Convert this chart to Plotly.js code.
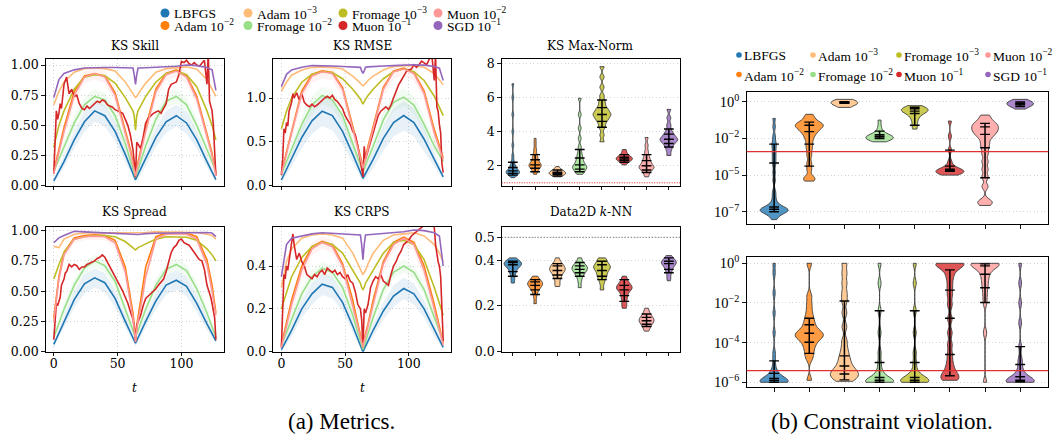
<!DOCTYPE html>
<html><head><meta charset="utf-8">
<script src="https://cdn.plot.ly/plotly-3.0.1.min.js"></script>
<style>html,body{margin:0;padding:0;background:#fff}#chart{width:1055px;height:436px}</style>
</head><body><div id="chart"></div>
<script>
// ---------------- DATA ----------------
const METHODS = ['LBFGS','Adam 1e-2','Adam 1e-3','Fromage 1e-2','Fromage 1e-3','Muon 1e-1','Muon 1e-2','SGD 1e-1'];
const LABELS = ['LBFGS','Adam 10<sup>−2</sup>','Adam 10<sup>−3</sup>','Fromage 10<sup>−2</sup>','Fromage 10<sup>−3</sup>','Muon 10<sup>−1</sup>','Muon 10<sup>−2</sup>','SGD 10<sup>−1</sup>'];
const COLORS = ['#1f77b4','#ff7f0e','#ffbb78','#98df8a','#bcbd22','#d62728','#ff9896','#9467bd'];

const T8 = [0,8,16,24,32,40,48,56,64,72,80,88,96,104,112,120,127];
const T_DIP = [0,4,8,16,24,32,40,48,56,60,62,63,64,65,66,68,72,80,88,96,104,112,120,124,127];
const T_RED = [0,1,2,3,4,5,6,8,9,10,12,14,16,18,20,22,24,26,28,30,32,34,36,38,40,42,44,46,48,50,52,54,56,58,60,62,63,64,65,66,68,70,72,74,76,78,80,82,84,86,88,90,92,94,96,98,100,102,104,106,108,110,112,114,116,118,120,121,122,123,124,125,126,127];

// KS Skill
const SKILL_LBFGS = [0.04,0.2,0.38,0.53,0.62,0.58,0.45,0.26,0.05,0.22,0.40,0.53,0.58,0.52,0.38,0.2,0.05];
const SKILL_LBFGS_SD = [0.02,0.05,0.07,0.08,0.09,0.09,0.08,0.06,0.03,0.06,0.08,0.09,0.09,0.09,0.07,0.05,0.02];
const SKILL_ADAM2 = [0.12,0.3,0.48,0.78,0.91,0.93,0.91,0.77,0.47,0.3,0.2,0.15,0.1,0.15,0.2,0.3,0.48,0.8,0.93,0.96,0.91,0.74,0.44,0.27,0.1];
const SKILL_ADAM3 = [0.67,0.78,0.86,0.94,0.97,0.975,0.97,0.95,0.86,0.79,0.76,0.74,0.73,0.74,0.76,0.79,0.85,0.94,0.97,0.98,0.985,0.965,0.88,0.8,0.74];
const SKILL_FROM2 = [0.12,0.32,0.52,0.67,0.74,0.71,0.58,0.35,0.07,0.33,0.55,0.70,0.74,0.67,0.5,0.3,0.12];
const SKILL_FROM2_SD = [0.03,0.05,0.06,0.06,0.06,0.06,0.06,0.05,0.03,0.05,0.06,0.06,0.06,0.06,0.06,0.05,0.03];
const SKILL_FROM3 = [0.32,0.5,0.62,0.8,0.9,0.92,0.91,0.85,0.73,0.66,0.62,0.58,0.46,0.58,0.62,0.66,0.74,0.86,0.93,0.95,0.92,0.82,0.62,0.5,0.38];
const SKILL_MUON1 = [0.1,0.45,0.62,0.55,0.6,0.68,0.64, 0.84,0.88,0.9,
  0.76,0.8,0.74,0.75,0.68,0.64,0.63,0.66,0.64,0.66,0.68,0.7,0.69,0.71,0.7,0.67,0.66,0.65,0.63,0.62,0.61,0.6,0.55,0.5,0.42,
  0.3,0.2,0.07,0.36,0.34,
  0.31,0.4,0.52,0.56,0.58,0.6,0.61,0.62,0.6,0.64,0.68,0.8,0.84,0.85,0.86,0.92,1.03,1.02,1.04,1.01,1.0,1.02,1.0,0.99,1.02,1.04,0.84,
  1.1,0.7,0.66,0.62,0.5,0.24,0.08];
const SKILL_MUON2 = [0.1,0.28,0.45,0.75,0.9,0.93,0.9,0.75,0.45,0.28,0.18,0.13,0.08,0.13,0.18,0.28,0.45,0.78,0.92,0.95,0.9,0.72,0.42,0.25,0.08];
const SKILL_MUON2_SD = [0.03,0.05,0.06,0.06,0.05,0.05,0.05,0.06,0.06,0.05,0.04,0.03,0.03,0.03,0.04,0.05,0.06,0.06,0.05,0.05,0.05,0.06,0.06,0.05,0.03];
const SKILL_SGD = [0.73,0.88,0.93,0.96,0.975,0.98,0.98,0.98,0.978,0.976,0.975,0.92,0.84,0.92,0.975,0.976,0.978,0.98,0.985,0.99,1.0,0.995,0.98,0.96,0.79];

// KS RMSE
const RMSE_LBFGS = [0.065,0.3,0.55,0.74,0.85,0.8,0.62,0.36,0.085,0.3,0.54,0.72,0.8,0.72,0.53,0.3,0.1];
const RMSE_LBFGS_SD = [0.03,0.08,0.12,0.15,0.17,0.17,0.15,0.1,0.04,0.1,0.14,0.16,0.17,0.16,0.13,0.08,0.03];
const RMSE_ADAM2 = [0.15,0.38,0.64,1.08,1.27,1.31,1.29,1.12,0.68,0.45,0.32,0.27,0.22,0.27,0.32,0.45,0.68,1.12,1.31,1.34,1.29,1.08,0.64,0.45,0.32];
const RMSE_ADAM3 = [1.08,1.18,1.26,1.32,1.35,1.355,1.35,1.33,1.25,1.2,1.17,1.15,1.14,1.15,1.17,1.2,1.25,1.32,1.36,1.37,1.37,1.35,1.28,1.2,1.15];
const RMSE_FROM2 = [0.13,0.42,0.7,0.92,1.03,0.98,0.8,0.48,0.16,0.45,0.75,0.95,1.01,0.92,0.7,0.45,0.28];
const RMSE_FROM2_SD = [0.04,0.07,0.09,0.1,0.1,0.1,0.09,0.08,0.05,0.08,0.09,0.1,0.1,0.1,0.09,0.07,0.05];
const RMSE_FROM3 = [0.65,0.85,1.0,1.18,1.27,1.3,1.29,1.22,1.1,1.03,0.99,0.96,0.93,0.96,0.99,1.03,1.1,1.22,1.3,1.33,1.3,1.2,1.02,0.9,0.8];
const RMSE_MUON1 = [0.12,0.3,0.65,0.6,0.72,0.68,0.85, 0.95,1.05,1.0,
  1.06,0.98,1.05,0.95,0.92,0.9,0.93,0.9,0.92,0.95,0.98,1.0,1.02,1.0,1.03,0.98,0.96,0.92,0.88,0.8,0.75,0.7,0.62,0.58,0.45,
  0.3,0.2,0.1,0.45,0.3,
  0.4,0.5,0.62,0.72,0.8,0.85,0.88,0.9,0.87,0.92,1.0,1.08,1.15,1.2,1.25,1.3,1.32,1.33,1.38,1.35,1.38,1.42,1.4,1.38,1.44,1.5,1.2,
  1.5,0.9,0.85,0.7,0.6,0.25,0.15];
const RMSE_MUON2 = [0.13,0.35,0.6,1.05,1.25,1.3,1.28,1.1,0.65,0.42,0.3,0.25,0.2,0.25,0.3,0.42,0.65,1.1,1.3,1.33,1.28,1.05,0.6,0.42,0.3];
const RMSE_MUON2_SD = [0.04,0.07,0.09,0.1,0.08,0.08,0.08,0.09,0.09,0.08,0.06,0.05,0.04,0.05,0.06,0.08,0.09,0.09,0.08,0.08,0.08,0.09,0.09,0.07,0.05];
const RMSE_SGD = [1.13,1.27,1.32,1.35,1.37,1.37,1.365,1.36,1.355,1.355,1.35,1.31,1.28,1.31,1.35,1.355,1.36,1.365,1.37,1.375,1.38,1.375,1.36,1.34,1.2];

// KS Spread
const SPREAD_LBFGS = [0.06,0.25,0.43,0.56,0.61,0.57,0.44,0.25,0.07,0.25,0.42,0.55,0.59,0.54,0.4,0.23,0.09];
const SPREAD_LBFGS_SD = [0.02,0.05,0.07,0.08,0.08,0.08,0.07,0.05,0.03,0.05,0.07,0.08,0.08,0.08,0.07,0.05,0.02];
const SPREAD_ADAM2 = [0.28,0.62,0.82,0.94,0.96,0.965,0.96,0.92,0.7,0.46,0.32,0.22,0.1,0.22,0.3,0.42,0.7,0.95,0.98,0.985,0.98,0.95,0.76,0.55,0.32];
const SPREAD_ADAM3 = [0.87,0.86,0.93,0.97,0.98,0.98,0.98,0.98,0.98,0.98,0.98,0.98,0.98,0.98,0.98,0.985,0.985,0.99,0.99,0.99,0.99,0.985,0.97,0.96,0.93];
const SPREAD_FROM2 = [0.12,0.35,0.55,0.69,0.75,0.71,0.58,0.35,0.12,0.35,0.55,0.68,0.72,0.67,0.52,0.32,0.12];
const SPREAD_FROM2_SD = [0.03,0.05,0.05,0.05,0.05,0.05,0.05,0.05,0.03,0.05,0.05,0.05,0.05,0.05,0.05,0.05,0.03];
const SPREAD_FROM3 = [0.6,0.72,0.82,0.93,0.95,0.96,0.96,0.95,0.91,0.88,0.86,0.85,0.84,0.85,0.86,0.87,0.89,0.93,0.95,0.95,0.945,0.92,0.85,0.8,0.75];
const SPREAD_MUON1 = [0.1,0.3,0.4,0.38,0.42,0.45,0.55, 0.6,0.65,0.66,
  0.72,0.7,0.72,0.71,0.68,0.7,0.7,0.72,0.73,0.74,0.75,0.77,0.78,0.8,0.78,0.74,0.7,0.66,0.62,0.58,0.55,0.5,0.45,0.4,0.33,
  0.27,0.2,0.08,0.22,0.25,
  0.3,0.38,0.44,0.46,0.48,0.5,0.52,0.55,0.58,0.6,0.66,0.75,0.82,0.86,0.88,0.92,0.93,0.9,0.89,0.88,0.85,0.82,0.78,0.76,0.75,0.68,0.55,
  0.52,0.48,0.45,0.4,0.35,0.28,0.1];
const SPREAD_MUON2 = [0.25,0.6,0.8,0.93,0.95,0.955,0.95,0.9,0.66,0.42,0.28,0.18,0.08,0.18,0.26,0.36,0.62,0.93,0.97,0.975,0.97,0.93,0.72,0.5,0.3];
const SPREAD_MUON2_SD = [0.04,0.05,0.04,0.03,0.03,0.03,0.03,0.04,0.05,0.05,0.04,0.03,0.03,0.03,0.04,0.05,0.05,0.03,0.02,0.02,0.02,0.03,0.05,0.05,0.04];
const SPREAD_SGD = [0.9,0.94,0.96,0.995,0.99,0.985,0.98,0.975,0.97,0.97,0.968,0.967,0.966,0.967,0.968,0.97,0.975,0.978,0.98,0.98,0.982,0.985,0.985,0.98,0.95];

// KS CRPS
const CRPS_LBFGS = [0.01,0.1,0.2,0.27,0.315,0.3,0.23,0.12,0.0,0.1,0.19,0.26,0.295,0.27,0.2,0.1,0.02];
const CRPS_LBFGS_SD = [0.01,0.03,0.04,0.05,0.05,0.05,0.04,0.03,0.01,0.03,0.04,0.05,0.05,0.05,0.04,0.03,0.01];
const CRPS_ADAM2 = [0.03,0.13,0.24,0.4,0.49,0.515,0.5,0.41,0.24,0.13,0.08,0.06,0.03,0.06,0.08,0.13,0.24,0.42,0.51,0.535,0.51,0.4,0.22,0.12,0.04];
const CRPS_ADAM3 = [0.3,0.42,0.48,0.53,0.545,0.55,0.545,0.53,0.46,0.41,0.38,0.37,0.36,0.37,0.38,0.41,0.46,0.52,0.545,0.55,0.555,0.54,0.5,0.46,0.42];
const CRPS_FROM2 = [0.03,0.15,0.27,0.35,0.39,0.37,0.3,0.17,0.01,0.16,0.29,0.37,0.4,0.37,0.29,0.16,0.05];
const CRPS_FROM2_SD = [0.01,0.03,0.03,0.03,0.03,0.03,0.03,0.03,0.01,0.03,0.03,0.03,0.03,0.03,0.03,0.03,0.01];
const CRPS_FROM3 = [0.2,0.28,0.35,0.44,0.49,0.51,0.5,0.46,0.38,0.34,0.32,0.3,0.29,0.3,0.32,0.34,0.38,0.46,0.51,0.52,0.5,0.43,0.3,0.22,0.17];
const CRPS_MUON1 = [0.02,0.2,0.36,0.34,0.4,0.38,0.42, 0.52,0.55,0.5,
  0.43,0.46,0.42,0.4,0.36,0.35,0.34,0.36,0.35,0.37,0.38,0.36,0.39,0.38,0.37,0.38,0.36,0.37,0.35,0.34,0.36,0.33,0.32,0.28,0.22,
  0.2,0.15,0.02,0.2,0.18,
  0.22,0.3,0.33,0.35,0.34,0.36,0.33,0.32,0.31,0.36,0.4,0.42,0.45,0.47,0.5,0.51,0.52,0.54,0.55,0.56,0.57,0.58,0.59,0.6,0.62,0.6,0.58,
  0.5,0.45,0.42,0.4,0.35,0.2,0.05];
const CRPS_MUON2 = [0.02,0.12,0.22,0.38,0.48,0.51,0.49,0.4,0.22,0.12,0.07,0.05,0.02,0.05,0.07,0.12,0.22,0.41,0.5,0.53,0.5,0.38,0.2,0.1,0.03];
const CRPS_MUON2_SD = [0.01,0.03,0.04,0.04,0.03,0.03,0.03,0.04,0.04,0.03,0.02,0.02,0.01,0.02,0.02,0.03,0.04,0.04,0.03,0.03,0.03,0.04,0.04,0.03,0.01];
const CRPS_SGD = [0.35,0.5,0.53,0.54,0.55,0.555,0.553,0.55,0.548,0.546,0.545,0.5,0.43,0.5,0.545,0.546,0.548,0.55,0.555,0.56,0.568,0.565,0.555,0.54,0.4];

// KS Max-Norm violins (samples) and marked quantiles
const MAXNORM_SAMPLES = [
  [1.3,1.45,1.5,1.55,1.58,1.6,1.62,1.65,1.7,1.75,1.8,1.9,2.0,2.1,2.3,2.6,3.2,4.0,5.0,6.0,6.8],
  [1.5,1.65,1.75,1.85,1.9,1.95,2.0,2.0,2.05,2.1,2.15,2.2,2.3,2.4,2.5,2.6,2.8,3.0,3.3,3.6],
  [1.35,1.45,1.5,1.52,1.55,1.55,1.57,1.6,1.62,1.65,1.7,1.8,1.95],
  [1.5,1.6,1.7,1.8,1.85,1.9,1.95,2.0,2.1,2.2,2.3,2.45,2.6,2.8,3.1,3.6,4.2,5.0,5.95],
  [3.4,3.8,4.2,4.4,4.6,4.7,4.8,4.9,5.0,5.0,5.1,5.2,5.3,5.4,5.6,5.8,6.1,6.6,7.2,7.8],
  [2.05,2.2,2.3,2.35,2.38,2.4,2.42,2.45,2.5,2.55,2.65,2.8,2.95],
  [1.35,1.55,1.7,1.8,1.85,1.9,1.95,2.0,2.1,2.2,2.3,2.45,2.6,2.85,3.2,3.65],
  [2.6,2.9,3.1,3.25,3.35,3.45,3.5,3.55,3.6,3.7,3.8,3.9,4.1,4.4,4.8,5.3]
];
const MAXNORM_QUANT = [
  [1.45,1.55,1.7,1.9,2.2],[1.65,1.85,2.05,2.35,2.65],[1.4,1.5,1.55,1.62,1.75],[1.65,1.8,2.05,2.45,2.95],
  [4.25,4.6,5.0,5.4,5.85],[2.2,2.32,2.4,2.5,2.65],[1.6,1.75,2.0,2.3,2.65],[3.1,3.3,3.55,3.85,4.15]
];
const MAXNORM_REF = 1.0;

// Data2D k-NN violins
const KNN_SAMPLES = [
  [0.30,0.32,0.34,0.35,0.36,0.37,0.375,0.38,0.38,0.385,0.39,0.39,0.395,0.40,0.41],
  [0.21,0.24,0.26,0.27,0.28,0.285,0.29,0.295,0.30,0.30,0.305,0.31,0.32,0.33],
  [0.285,0.30,0.32,0.33,0.34,0.35,0.355,0.36,0.36,0.37,0.375,0.38,0.39,0.41],
  [0.28,0.31,0.33,0.34,0.35,0.355,0.36,0.365,0.37,0.375,0.38,0.39,0.41],
  [0.27,0.30,0.32,0.33,0.34,0.35,0.36,0.365,0.37,0.375,0.38,0.39,0.40,0.41],
  [0.19,0.21,0.23,0.245,0.26,0.27,0.275,0.28,0.285,0.29,0.30,0.31,0.33],
  [0.09,0.105,0.115,0.125,0.13,0.135,0.14,0.145,0.15,0.16,0.17,0.19],
  [0.31,0.33,0.35,0.36,0.37,0.38,0.385,0.39,0.39,0.395,0.40,0.41,0.42]
];
const KNN_QUANT = [
  [0.33,0.35,0.38,0.39,0.395],[0.25,0.27,0.29,0.305,0.315],[0.32,0.335,0.355,0.375,0.385],[0.33,0.345,0.36,0.375,0.39],
  [0.315,0.33,0.355,0.38,0.395],[0.22,0.245,0.27,0.29,0.315],[0.11,0.12,0.135,0.15,0.165],[0.345,0.36,0.385,0.395,0.41]
];
const KNN_REF = 0.5;

// Constraint violation, log10 values
const CV_TOP_SAMPLES = [
  [-7.5,-7.35,-7.2,-7.1,-7.05,-7.0,-6.98,-6.95,-6.92,-6.9,-6.88,-6.85,-6.82,-6.8,-6.75,-6.7,-6.6,-6.5,-6.3,-6.0,-5.7,-5.0,-4.5,-4.0,-3.7,-3.4,-3.1,-2.8,-2.6,-2.2,-1.6,-1.06],
  [-0.8,-1.0,-1.2,-1.3,-1.4,-1.45,-1.5,-1.55,-1.6,-1.7,-1.8,-1.9,-2.0,-2.2,-2.4,-2.7,-3.0,-3.4,-3.9,-4.3,-4.8,-4.9,-5.05],
  [0.15,0.05,0.0,-0.03,-0.05,-0.07,-0.1,-0.15,-0.25,-0.36],
  [-1.17,-1.6,-1.9,-2.05,-2.15,-2.2,-2.22,-2.25,-2.28,-2.3,-2.32,-2.35,-2.4,-2.45,-2.55],
  [-0.25,-0.35,-0.42,-0.48,-0.52,-0.55,-0.6,-0.65,-0.75,-0.9,-1.1,-1.4,-1.74],
  [-1.23,-2.2,-3.08,-3.8,-4.1,-4.25,-4.32,-4.36,-4.4,-4.42,-4.44,-4.46,-4.5,-4.55,-4.6,-4.67],
  [-0.85,-1.1,-1.3,-1.4,-1.5,-1.6,-1.7,-1.8,-1.9,-2.0,-2.15,-2.3,-2.6,-2.9,-3.3,-3.8,-4.3,-4.8,-5.4,-6.3,-6.4,-6.6],
  [0.15,0.05,-0.02,-0.08,-0.12,-0.15,-0.18,-0.22,-0.3,-0.47]
];
const CV_TOP_QUANT = [
  [-7.0,-6.84,-6.7,-3.9,-2.7],[-4.1,-2.7,-1.9,-1.5,-1.3],[-0.1,-0.07,-0.05,-0.02,0.0],[-2.35,-2.25,-2.2,-2.1,-1.87],
  [-1.5,-0.75,-0.6,-0.45,-0.35],[-4.42,-4.38,-4.3,-4.1,-3.08],[-4.84,-2.93,-2.08,-1.6,-1.38],[-0.3,-0.2,-0.15,-0.1,-0.02]
];
const CV_TOP_REF = -3.18;
const CV_BOT_SAMPLES = [
  [0,-0.5,-1.5,-2.5,-3.5,-4.5,-4.9,-5.3,-5.5,-5.6,-5.7,-5.8,-5.85,-5.9,-5.92,-5.95,-5.97,-6,-6,-6,-6,-6,-6,-6],
  [0,-1.65,-2.1,-2.5,-2.8,-3.0,-3.2,-3.35,-3.5,-3.55,-3.6,-3.65,-3.7,-3.8,-3.95,-4.1,-4.3,-4.55,-4.8,-5.9],
  [0,-0.5,-1.0,-1.5,-1.9,-2.5,-3.2,-3.9,-4.3,-4.6,-4.8,-5.0,-5.15,-5.3,-5.4,-5.5,-5.55,-5.6,-5.7,-5.8,-5.85,-5.95],
  [0,-1,-2.4,-3.5,-4.5,-5.0,-5.4,-5.6,-5.76,-5.85,-5.9,-5.95,-6,-6,-6,-6,-6,-6],
  [0,-1,-2.4,-3.5,-4.5,-5.0,-5.4,-5.6,-5.75,-5.8,-5.85,-5.9,-5.92,-5.95,-6,-6,-6,-6],
  [0,0,0,0,-0.05,-0.15,-0.3,-0.5,-0.8,-1.2,-1.6,-2.1,-2.8,-3.5,-4.1,-4.6,-5.0,-5.3,-5.5,-5.65,-5.75,-5.85,-5.9],
  [0,0,0,0,0,-0.05,-0.1,-0.15,-0.25,-0.4,-0.55,-0.75,-1.0,-1.25,-1.6,-2.0,-3.5,-6],
  [0,-1,-2,-3,-4.2,-4.8,-5.1,-5.4,-5.6,-5.72,-5.8,-5.85,-5.9,-5.95,-5.97,-6,-6,-6,-6,-6]
];
const CV_BOT_QUANT = [
  [-6.0,-5.9,-5.8,-5.55,-4.92],[-4.54,-3.98,-3.53,-3.1,-2.77],[-5.88,-5.58,-5.18,-4.67,-1.9],[-6.0,-5.9,-5.76,-5.0,-2.39],
  [-6.0,-5.9,-5.76,-5.0,-2.39],[-5.67,-4.6,-2.77,-1.35,-0.33],[-1.98,-1.23,-0.55,-0.13,-0.03],[-5.97,-5.9,-5.72,-5.1,-4.2]
];
const CV_BOT_REF = -5.41;

const TOP_TICKS = [0,-7/3,-14/3,-7];
const TOP_TICKTEXT = ['10<sup>0</sup>','10<sup>−2</sup>','10<sup>−5</sup>','10<sup>−7</sup>'];
const BOT_TICKS = [0,-2,-4,-6];
const BOT_TICKTEXT = ['10<sup>0</sup>','10<sup>−2</sup>','10<sup>−4</sup>','10<sup>−6</sup>'];

// ---------------- BUILD ----------------
const W = 1055, H = 436;
const px = v => v / W, py = v => 1 - v / H;
function rgba(hex, a){const n=parseInt(hex.slice(1),16);return `rgba(${n>>16&255},${n>>8&255},${n&255},${a})`;}
const traces = [];

function bandTrace(xa, ya, t, y, sd, ci, a){
  const hi = y.map((v,i)=>v+sd[i]), lo = y.map((v,i)=>v-sd[i]);
  traces.push({type:'scatter', mode:'lines', x:t.concat(t.slice().reverse()), y:hi.concat(lo.reverse()), xaxis:xa, yaxis:ya,
    fill:'toself', fillcolor:rgba(COLORS[ci],a), line:{width:0}, showlegend:false, hoverinfo:'skip'});
}
function linePanel(xa, ya, bands, series){
  bands.forEach(([t,y,sd,ci,a]) => bandTrace(xa,ya,t,y,sd,ci,a));
  series.forEach(([t, y, ci]) => {
    traces.push({type:'scatter', mode:'lines', x:t, y:y, xaxis:xa, yaxis:ya, showlegend:false,
      line:{color:COLORS[ci], width:1.6}, hoverinfo:'skip'});
  });
}
linePanel('x','y',
  [[T8,SKILL_LBFGS,SKILL_LBFGS_SD,0,0.1],[T8,SKILL_FROM2,SKILL_FROM2_SD,3,0.12],[T_DIP,SKILL_MUON2,SKILL_MUON2_SD,6,0.12]],
  [[T8,SKILL_LBFGS,0],[T_DIP,SKILL_ADAM2,1],[T_DIP,SKILL_ADAM3,2],[T8,SKILL_FROM2,3],[T_DIP,SKILL_FROM3,4],[T_RED,SKILL_MUON1,5],[T_DIP,SKILL_MUON2,6],[T_DIP,SKILL_SGD,7]]);
linePanel('x2','y2',
  [[T8,RMSE_LBFGS,RMSE_LBFGS_SD,0,0.1],[T8,RMSE_FROM2,RMSE_FROM2_SD,3,0.12],[T_DIP,RMSE_MUON2,RMSE_MUON2_SD,6,0.12]],
  [[T8,RMSE_LBFGS,0],[T_DIP,RMSE_ADAM2,1],[T_DIP,RMSE_ADAM3,2],[T8,RMSE_FROM2,3],[T_DIP,RMSE_FROM3,4],[T_RED,RMSE_MUON1,5],[T_DIP,RMSE_MUON2,6],[T_DIP,RMSE_SGD,7]]);
linePanel('x4','y4',
  [[T8,SPREAD_LBFGS,SPREAD_LBFGS_SD,0,0.1],[T8,SPREAD_FROM2,SPREAD_FROM2_SD,3,0.12],[T_DIP,SPREAD_MUON2,SPREAD_MUON2_SD,6,0.12]],
  [[T8,SPREAD_LBFGS,0],[T_DIP,SPREAD_ADAM2,1],[T_DIP,SPREAD_ADAM3,2],[T8,SPREAD_FROM2,3],[T_DIP,SPREAD_FROM3,4],[T_RED,SPREAD_MUON1,5],[T_DIP,SPREAD_MUON2,6],[T_DIP,SPREAD_SGD,7]]);
linePanel('x5','y5',
  [[T8,CRPS_LBFGS,CRPS_LBFGS_SD,0,0.1],[T8,CRPS_FROM2,CRPS_FROM2_SD,3,0.12],[T_DIP,CRPS_MUON2,CRPS_MUON2_SD,6,0.12]],
  [[T8,CRPS_LBFGS,0],[T_DIP,CRPS_ADAM2,1],[T_DIP,CRPS_ADAM3,2],[T8,CRPS_FROM2,3],[T_DIP,CRPS_FROM3,4],[T_RED,CRPS_MUON1,5],[T_DIP,CRPS_MUON2,6],[T_DIP,CRPS_SGD,7]]);

function violinPanel(xa, ya, samples, quants, widths, bw){
  METHODS.forEach((m,i) => {
    traces.push({type:'violin', x:samples[i].map(()=>m), y:samples[i], xaxis:xa, yaxis:ya, name:m, showlegend:false,
      fillcolor:rgba(COLORS[i],0.78), line:{color:'#3c3c3c', width:0.9}, points:false, spanmode:'hard',
      scalemode:'width', width:widths[i], bandwidth:bw, box:{visible:false}, meanline:{visible:false}, hoverinfo:'skip'});
    traces.push({type:'scatter', mode:'lines+markers', x:quants[i].map(()=>m), y:quants[i], xaxis:xa, yaxis:ya, showlegend:false,
      line:{color:'#000', width:1.5}, marker:{symbol:'line-ew', size:7, color:'#000', line:{color:'#000', width:1.4}}, hoverinfo:'skip'});
  });
}
violinPanel('x3','y3',MAXNORM_SAMPLES,MAXNORM_QUANT,[0.6,0.55,0.75,0.64,0.8,0.73,0.67,0.79],0.13);
violinPanel('x6','y6',KNN_SAMPLES,KNN_QUANT,[0.78,0.67,0.7,0.69,0.75,0.7,0.67,0.67],0.012);
violinPanel('x7','y7',CV_TOP_SAMPLES,CV_TOP_QUANT,[0.8,0.8,0.76,0.78,0.76,0.8,0.76,0.76],0.18);
violinPanel('x8','y8',CV_BOT_SAMPLES,CV_BOT_QUANT,[0.8,0.8,0.8,0.8,0.8,0.8,0.8,0.8],0.2);

// legend keys: coloured dots + labels, laid out like the matplotlib legends (column-major, 2 rows)
const TOP_LEG_DOT = [[165,13],[165,25.5],[248,13],[248,25.5],[343,13],[343,25.5],[438,13],[438,25.5]];
const RIGHT_LEG_DOT = [[739,55],[739,74.5],[813,55],[813,74.5],[899,55],[899,74.5],[988,55],[988,74.5]];
const legendShapes = [], legendTexts = [];
function legendItem(i, dx, dy, r, gap, size){
  legendShapes.push({type:'circle', xref:'paper', yref:'paper', xsizemode:'pixel', ysizemode:'pixel',
    xanchor:px(dx), yanchor:py(dy), x0:-r, x1:r, y0:-r, y1:r, fillcolor:COLORS[i], line:{width:0}});
  legendTexts.push({text:LABELS[i], xref:'paper', yref:'paper', x:px(dx+gap), y:py(dy+0.5), xanchor:'left', yanchor:'middle',
    showarrow:false, borderpad:0, font:{family:'Liberation Serif', size:size, color:'#000'}});
}
METHODS.forEach((m,i) => {
  legendItem(i, TOP_LEG_DOT[i][0], TOP_LEG_DOT[i][1], 4.5, 8, 13.5);
  legendItem(i, RIGHT_LEG_DOT[i][0], RIGHT_LEG_DOT[i][1], 2.8, 4, 13.5);
});

const tickFont = {family:'DejaVu Serif', size:12.5, color:'#000'};
const base = {showline:true, mirror:true, linecolor:'#000', linewidth:1, ticks:'outside', ticklen:3.5, tickwidth:0.9,
  tickcolor:'#000', zeroline:false, showgrid:true, gridcolor:'#cdcdcd', griddash:'1px,2.5px', gridwidth:0.9, tickfont:tickFont, fixedrange:true};
const row1 = [py(185.7), py(59)], row2 = [py(351.7), py(227)];
const c1 = [px(45.7), px(224)], c2 = [px(273.3), px(451.3)], c3 = [px(501.7), px(680)], cR = [px(746.7), px(1048.3)];
const tAxis = (dom, anchor, labels) => Object.assign({}, base, {domain:dom, anchor:anchor, range:[-6.35,133.35], tickvals:[0,50,100], showticklabels:labels, ticklabelstandoff:-3});
const catAxis = (dom, anchor, range) => Object.assign({}, base, {domain:dom, anchor:anchor, type:'category', categoryorder:'array', categoryarray:METHODS, range:range, showticklabels:false, showgrid:false});
const logFont = {family:'Liberation Serif', size:14.5, color:'#000'};

const layout = {
  width:W, height:H, margin:{l:0,r:0,t:0,b:0}, paper_bgcolor:'#fff', plot_bgcolor:'#fff', violinmode:'overlay', showlegend:false,
  font:{family:'DejaVu Serif', color:'#000'},
  xaxis: tAxis(c1,'y',false),
  yaxis: Object.assign({}, base, {domain:row1, anchor:'x', range:[0,1.05], tickvals:[0,0.25,0.5,0.75,1], tickformat:'.2f'}),
  xaxis2: tAxis(c2,'y2',false),
  yaxis2: Object.assign({}, base, {domain:row1, anchor:'x2', range:[0,1.445], tickvals:[0,0.5,1], tickformat:'.1f'}),
  xaxis3: catAxis(c3,'y3',[-0.5,7.5]),
  yaxis3: Object.assign({}, base, {domain:row1, anchor:'x3', range:[0.83,8.25], tickvals:[2,4,6,8]}),
  xaxis4: tAxis(c1,'y4',true),
  yaxis4: Object.assign({}, base, {domain:row2, anchor:'x4', range:[0,1.03], tickvals:[0,0.25,0.5,0.75,1], tickformat:'.2f'}),
  xaxis5: tAxis(c2,'y5',true),
  yaxis5: Object.assign({}, base, {domain:row2, anchor:'x5', range:[0,0.582], tickvals:[0,0.2,0.4], tickformat:'.1f'}),
  xaxis6: catAxis(c3,'y6',[-0.5,7.5]),
  yaxis6: Object.assign({}, base, {domain:row2, anchor:'x6', range:[0,0.545], tickvals:[0,0.2,0.4,0.5], tickformat:'.1f'}),
  xaxis7: catAxis(cR,'y7',[-0.78,7.8]),
  yaxis7: Object.assign({}, base, {domain:[py(224.3), py(92.3)], anchor:'x7', range:[-7.8,0.6], tickvals:TOP_TICKS, ticktext:TOP_TICKTEXT, tickfont:logFont}),
  xaxis8: catAxis(cR,'y8',[-0.78,7.8]),
  yaxis8: Object.assign({}, base, {domain:[py(387.3), py(256.7)], anchor:'x8', range:[-6.252,0.333], tickvals:BOT_TICKS, ticktext:BOT_TICKTEXT, tickfont:logFont}),
  shapes:[
    {type:'line', xref:'x3 domain', x0:0, x1:1, yref:'y3', y0:MAXNORM_REF, y1:MAXNORM_REF, line:{color:'#e02020', width:1, dash:'1px,1.5px'}},
    {type:'line', xref:'x6 domain', x0:0, x1:1, yref:'y6', y0:KNN_REF, y1:KNN_REF, line:{color:'#555', width:1, dash:'1px,2px'}},
    {type:'line', xref:'x7 domain', x0:0, x1:1, yref:'y7', y0:CV_TOP_REF, y1:CV_TOP_REF, line:{color:'#e03030', width:1.2}, layer:'above'},
    {type:'line', xref:'x8 domain', x0:0, x1:1, yref:'y8', y0:CV_BOT_REF, y1:CV_BOT_REF, line:{color:'#e03030', width:1.2}, layer:'above'}
  ].concat(legendShapes),
  annotations:[
    ['KS Skill', (45.7+224)/2, 46], ['KS RMSE', (273.3+451.3)/2, 46], ['KS Max-Norm', (501.7+680)/2, 46],
    ['KS Spread', (45.7+224)/2, 212], ['KS CRPS', (273.3+451.3)/2, 212], ['Data2D <i>k</i>-NN', (501.7+680)/2, 212],
    ['<i>t</i>', (45.7+224)/2, 387.5], ['<i>t</i>', (273.3+451.3)/2, 387.5]
  ].map(([txt,x,y]) => ({text:txt, xref:'paper', yref:'paper', x:px(x), y:py(y), xanchor:'center', yanchor:'middle', showarrow:false,
      font:{family:'DejaVu Serif', size:12, color:'#000'}}))
  .concat([
    {text:'(a) Metrics.', xref:'paper', yref:'paper', x:px(341.5), y:py(421), xanchor:'center', yanchor:'middle', showarrow:false,
      font:{family:'Liberation Serif', size:23, color:'#000'}},
    {text:'(b) Constraint violation.', xref:'paper', yref:'paper', x:px(882), y:py(421), xanchor:'center', yanchor:'middle', showarrow:false,
      font:{family:'Liberation Serif', size:23, color:'#000'}}
  ]).concat(legendTexts)
};

Plotly.newPlot('chart', traces, layout, {staticPlot:true, displayModeBar:false});
</script>
</body></html>
